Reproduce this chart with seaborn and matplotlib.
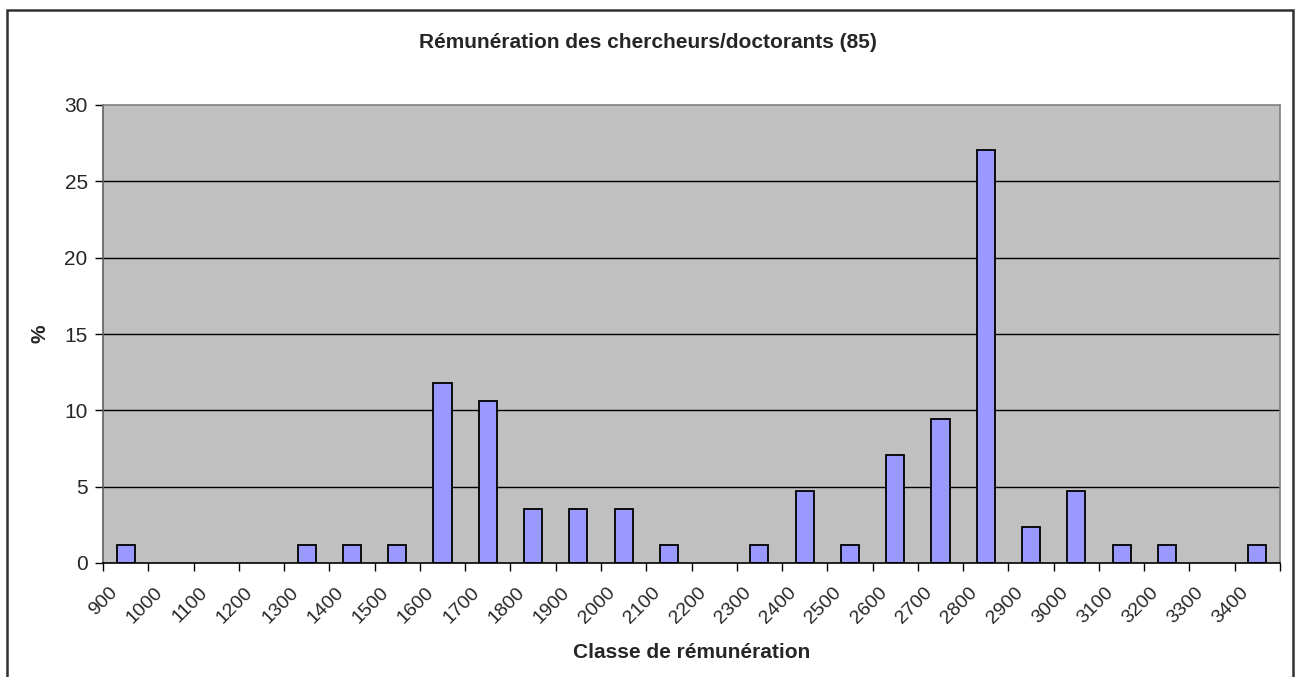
import matplotlib
matplotlib.use("Agg")
import matplotlib.pyplot as plt
import matplotlib.transforms as mtransforms
from matplotlib.patches import Rectangle
import numpy as np
import pandas as pd
import seaborn as sns

# Données : classes de rémunération et pourcentages
classes = ["900", "1000", "1100", "1200", "1300", "1400", "1500", "1600",
           "1700", "1800", "1900", "2000", "2100", "2200", "2300", "2400",
           "2500", "2600", "2700", "2800", "2900", "3000", "3100", "3200",
           "3300", "3400"]
pourcentages = [1.18, 0, 0, 0, 1.18, 1.18, 1.18, 11.76,
                10.59, 3.53, 3.53, 3.53, 1.18, 0, 1.18, 4.71,
                1.18, 7.06, 9.41, 27.06, 2.35, 4.71, 1.18, 1.18,
                0, 1.18]
y_ticks = [0, 5, 10, 15, 20, 25, 30]

TITRE = "Rémunération des chercheurs/doctorants (85)"
XLABEL = "Classe de rémunération"
YLABEL = "%"

sns.set_style("white")
plt.rcParams["font.family"] = ["Liberation Sans", "DejaVu Sans"]

df = pd.DataFrame({"classe": classes, "pct": pourcentages})

fig = plt.figure(figsize=(12.96, 6.77), dpi=100)
ax = fig.add_axes([103 / 1296, 114 / 677, 1177 / 1296, 458 / 677])
ax.set_facecolor("#C0C0C0")

sns.barplot(data=df, x="classe", y="pct", order=classes, ax=ax,
            color="#9999FF", edgecolor="black", linewidth=1.3,
            width=0.4, saturation=1)

# Excel n'affiche rien pour les classes vides
for p in ax.patches:
    if p.get_height() == 0:
        p.set_visible(False)

# Grille horizontale noire
for v in y_ticks[1:-1]:
    ax.axhline(v, color="black", linewidth=1, zorder=0.5)

ax.set_ylim(0, 30)
ax.set_xlim(-0.5, len(classes) - 0.5)
ax.set_yticks(y_ticks)
ax.set_yticklabels([str(v) for v in y_ticks], fontsize=15)

# Étiquettes centrées sur les catégories, graduations entre catégories
ax.set_xticks(np.arange(len(classes)))
ax.set_xticklabels(classes, rotation=45, ha="right",
                   rotation_mode="anchor", fontsize=14)
ax.set_xticks(np.arange(len(classes) + 1) - 0.5, minor=True)
ax.tick_params(axis="x", which="major", bottom=True, length=0, pad=15)
ax.tick_params(axis="x", which="minor", bottom=True, length=6, width=1,
               color="black", direction="out")
ax.tick_params(axis="y", left=True, length=6, width=1, color="black",
               direction="out", pad=5)

# Décalage des étiquettes vers la gauche (style Excel), après tick_params
decalage = mtransforms.ScaledTranslation(-0.17, 0, fig.dpi_scale_trans)
for lab in ax.get_xticklabels():
    lab.set_transform(lab.get_transform() + decalage)

for side in ["top", "right"]:
    ax.spines[side].set_color("#808080")
    ax.spines[side].set_linewidth(1.2)
ax.spines["left"].set_color("#606060")
ax.spines["bottom"].set_color("black")
for side in ["left", "bottom"]:
    ax.spines[side].set_linewidth(1.2)

ax.set_xlabel(XLABEL, fontsize=15, fontweight="bold")
ax.xaxis.set_label_coords(0.5, -(652 - 563) / 458)
ax.xaxis.label.set_va("center")
ax.set_ylabel(YLABEL, fontsize=15, fontweight="bold")
ax.yaxis.set_label_coords(-(103 - 40) / 1177, 0.5)
ax.yaxis.label.set_va("center")
fig.text(0.5, 1 - 42 / 677, TITRE, ha="center", va="center",
         fontsize=15, fontweight="bold")

# Cadre du graphique (coupé en bas comme dans l'original)
cadre = Rectangle((7 / 1296, -0.05), 1286 / 1296, 1.05 - 10 / 677,
                  transform=fig.transFigure, fill=False,
                  edgecolor="#303030", linewidth=1.8, clip_on=False)
fig.patches.append(cadre)

fig.savefig("out.png", dpi=100, facecolor="white")
plt.close(fig)
